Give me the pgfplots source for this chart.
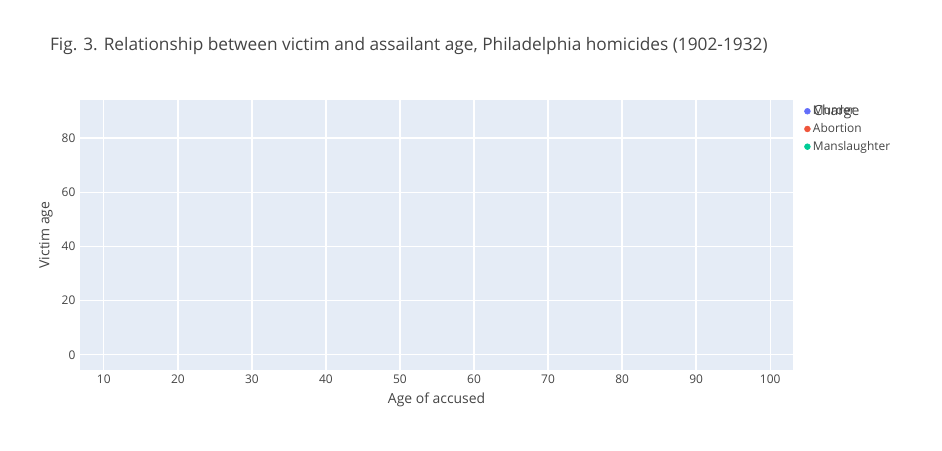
\documentclass[border=0pt]{standalone}
\usepackage{pgfplots}
\pgfplotsset{compat=1.18}
\usepackage{fontspec}
\setmainfont{Open Sans}
\definecolor{bg}{HTML}{E5ECF6}
\definecolor{colMur}{HTML}{636EFA}
\definecolor{colAbo}{HTML}{EF553B}
\definecolor{colMan}{HTML}{00CC96}
\definecolor{tx}{HTML}{444444}
\begin{document}
\begin{tikzpicture}
\path[use as bounding box] (0,0) rectangle (24.93cm,11.91cm);
\node[anchor=west,font=\fontsize{13}{15}\selectfont,text=tx] at (1.2cm,10.7cm) {Fig. 3. Relationship between victim and assailant age, Philadelphia homicides (1902-1932)};
\begin{axis}[at={(2.12cm,2.12cm)},anchor=south west,width=18.87cm,height=7.14cm,scale only axis,
xmin=6.8,xmax=103.1,ymin=-5.6,ymax=94,
axis background/.style={fill=bg},axis line style={draw=none},
grid=both,major grid style={white,line width=1pt},tick style={draw=none},
xtick={10,20,...,100},ytick={0,20,...,80},
ticklabel style={font=\fontsize{9}{10}\selectfont,text=tx},
/pgf/number format/assume math mode=true,
xlabel={Age of accused},ylabel={Victim age},
label style={font=\fontsize{10.5}{12}\selectfont,text=tx},
only marks,mark=*,mark size=2.2pt,
legend style={at={(1.01,1)},anchor=north west,draw=none,fill=none,font=\fontsize{9}{11}\selectfont,text=tx,row sep=1pt},
legend cell align=left]
\addplot[colMur,mark options={fill=colMur,draw=none}] coordinates {
(20,69)(23,69)(20,63)(33,69)(30,65)(22,57)(28,55)(29,54)(17,50)(19,49)(20,48)(21,46)(24,47)(25,45)(26,48)(27,51)(28,50)(29,50)(29,49)(30,50)
(27,46)(28,46)(27,43)(13,43)(22,42)(21,39)(20,38)(20,35)(17,38)(19,35)(22,37)(22,35)(22,33)(22,31)(22,29)(25,41)(25,39)(25,35)(28,36)(29,36)
(29,42)(30,42)(31,44)(32,42)(32,41)(29,40)(31,40)(33,37)(30,37)(30,35)(30,33)(31,37)(31,33)(31,31)(32,36)(32,32)(32,29)(32,26)(27,32)(27,31)(26,31)
(12,10)(14,10)(14,8)(15,11)(16,10)(16,7)(17,8)(15,21)(16,25)(17,30)(17,27)(18,25)(18,17)(17,23)(19,31)(19,23)(20,30)(20,27)(20,26)(20,21)(20,20)(19,19)(20,16)
(21,25)(21,23)(21,22)(21,20)(21,18)(22,26)(22,24)(22,22)(22,20)(22,17)(23,27)(23,25)(23,23)(23,21)(23,19)(24,29)(24,27)(24,25)(24,23)
(25,33)(25,31)(25,29)(25,27)(25,25)(25,23)(26,32)(26,29)(26,27)(26,24)(26,22)(27,33)(27,29)(27,27)(27,25)(28,33)(28,31)(28,29)(28,25)(28,22)(28,17)
(29,33)(29,31)(29,28)(29,26)(30,27)(30,25)(30,23)(30,20)(31,23)(31,19)(32,22)(32,20)(33,32)(33,30)(33,28)(30,9)(24,17)(23,17)(26,20)(21,37)(24,37)(24,40)(26,42)
(34,56)(33,55)(38,55)(34,51)(42,64)(41,60)(42,52)(34,47)(35,45)(36,45)(37,45)(37,43)(39,45)(39,42)(39,41)(40,42)(40,39)(41,39)(41,38)(38,41)(36,40)(35,40)(34,41)
(33,37)(35,38)(35,37)(35,36)(36,36)(37,37)(38,36)(33,32)(35,33)(36,32)(37,34)(37,33)(37,32)(38,33)(38,32)(38,31)(39,32)(39,30)(40,35)(40,34)(40,33)(41,33)(41,31)
(42,36)(42,35)(42,33)(42,31)(43,30)(44,28)(44,25)(43,23)(45,24)(46,27)(47,27)(33,28)(34,29)(34,27)(34,25)(35,30)(35,28)(35,26)(35,24)(36,25)(37,23)(38,22)(38,27)
(40,27)(40,26)(42,27)(34,19)(35,17)(42,18)(42,8)(34,5)(47,20)(50,20)(45,47)(45,40)(45,35)(48,48)(50,45)(51,45)(52,39)(53,38)(54,44)(55,50)(55,47)(55,43)(55,38)
(57,40)(58,50)(57,36)(56,35)(51,26)(52,26)(54,21)(60,15)(61,36)(64,38)(66,39)(98,59)(98,31)(36,38)(39,36)(41,36)(36,29)(39,27)(37,28)(31,28)(30,29)};
\addlegendentry{Murder}
\addplot[colAbo,mark options={fill=colAbo,draw=none}] coordinates {(26,26)(26,27)};
\addlegendentry{Abortion}
\addplot[colMan,mark options={fill=colMan,draw=none}] coordinates {
(24,73)(22,65)(19,61)(24,60)(26,57)(29,62)(25,47)(23,39)(18,34)(23,35)(23,31)(26,36)(26,34)(30,36)(30,31)(28,28)(22,20)(24,21)(25,21)(16,17)(15,15)(19,18)(19,14)(24,9)(25,10)
(44,70)(41,61)(36,55)(35,48)(40,45)(42,40)(56,56)(59,45)(33,2)(33,1)(98,11)};
\addlegendentry{Manslaughter}
\end{axis}
\node[anchor=west,font=\fontsize{10.5}{12}\selectfont,text=tx] at (21.4cm,8.95cm) {Charge};
\end{tikzpicture}
\end{document}
